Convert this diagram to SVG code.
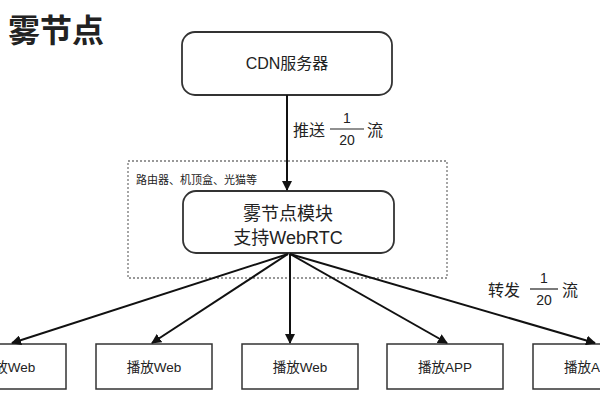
<svg xmlns="http://www.w3.org/2000/svg" width="600" height="400" viewBox="0 0 600 400">
<style>
text{font-family:"Liberation Sans","Noto Sans CJK SC",sans-serif;fill:#222}
.box{fill:#fff;stroke:#333;stroke-width:1.5}
.rbox{fill:#fff;stroke:#333;stroke-width:1.8}
.lbl{font-size:13.5px;text-anchor:middle}
.edge{stroke:#111;stroke-width:2;fill:none;marker-end:url(#ah)}
</style>
<defs>
<marker id="ah" viewBox="0 0 10 10" refX="9" refY="5" markerWidth="5" markerHeight="5" orient="auto-start-reverse" markerUnits="strokeWidth">
<path d="M0,0 L10,5 L0,10 z" fill="#111"/>
</marker>
</defs>
<rect width="600" height="400" fill="#fff"/>
<text x="8" y="42" font-size="32" font-weight="bold" fill="#333">雾节点</text>

<g id="fog-area">
<rect x="128" y="161" width="319" height="117" fill="none" stroke="#777" stroke-width="1.3" stroke-dasharray="2,2"/>
<text x="136" y="184" font-size="11">路由器、机顶盒、光猫等</text>
</g>

<g id="cdn">
<rect class="rbox" x="182" y="32" width="210" height="63" rx="13"/>
<text x="287" y="69" font-size="16" text-anchor="middle">CDN服务器</text>
</g>

<g id="fog">
<rect class="rbox" x="183" y="191" width="211" height="62" rx="13"/>
<text x="288" y="220" font-size="18" text-anchor="middle">雾节点模块</text>
<text x="288" y="244" font-size="18" text-anchor="middle">支持WebRTC</text>
</g>

<g id="c1"><rect class="box" x="-50" y="344" width="116" height="45"/><text class="lbl" x="8" y="372">播放Web</text></g>
<g id="c2"><rect class="box" x="96" y="344" width="116" height="45"/><text class="lbl" x="154" y="372">播放Web</text></g>
<g id="c3"><rect class="box" x="242" y="344" width="116" height="45"/><text class="lbl" x="300" y="372">播放Web</text></g>
<g id="c4"><rect class="box" x="387" y="344" width="116" height="45"/><text class="lbl" x="445" y="372">播放APP</text></g>
<g id="c5"><rect class="box" x="533" y="344" width="116" height="45"/><text class="lbl" x="591" y="372">播放APP</text></g>

<g id="connectors">
<line class="edge" x1="287" y1="95" x2="287" y2="190"/>
<line class="edge" x1="288" y1="254" x2="12" y2="343"/>
<line class="edge" x1="288" y1="254" x2="152" y2="343"/>
<line class="edge" x1="290" y1="254" x2="290" y2="343"/>
<line class="edge" x1="290" y1="254" x2="447" y2="343"/>
<line class="edge" x1="290" y1="254" x2="595" y2="343"/>
</g>

<g id="labels">
<text x="293" y="136" font-size="16">推送</text>
<text x="347" y="123" font-size="14" text-anchor="middle">1</text>
<line x1="330" y1="129" x2="364" y2="129" stroke="#222" stroke-width="1.2"/>
<text x="347" y="145" font-size="14" text-anchor="middle">20</text>
<text x="367" y="136" font-size="16">流</text>

<text x="488" y="296" font-size="16">转发</text>
<text x="544" y="283" font-size="14" text-anchor="middle">1</text>
<line x1="530" y1="289" x2="558" y2="289" stroke="#222" stroke-width="1.2"/>
<text x="544" y="305" font-size="14" text-anchor="middle">20</text>
<text x="562" y="296" font-size="16">流</text>
</g>
</svg>
